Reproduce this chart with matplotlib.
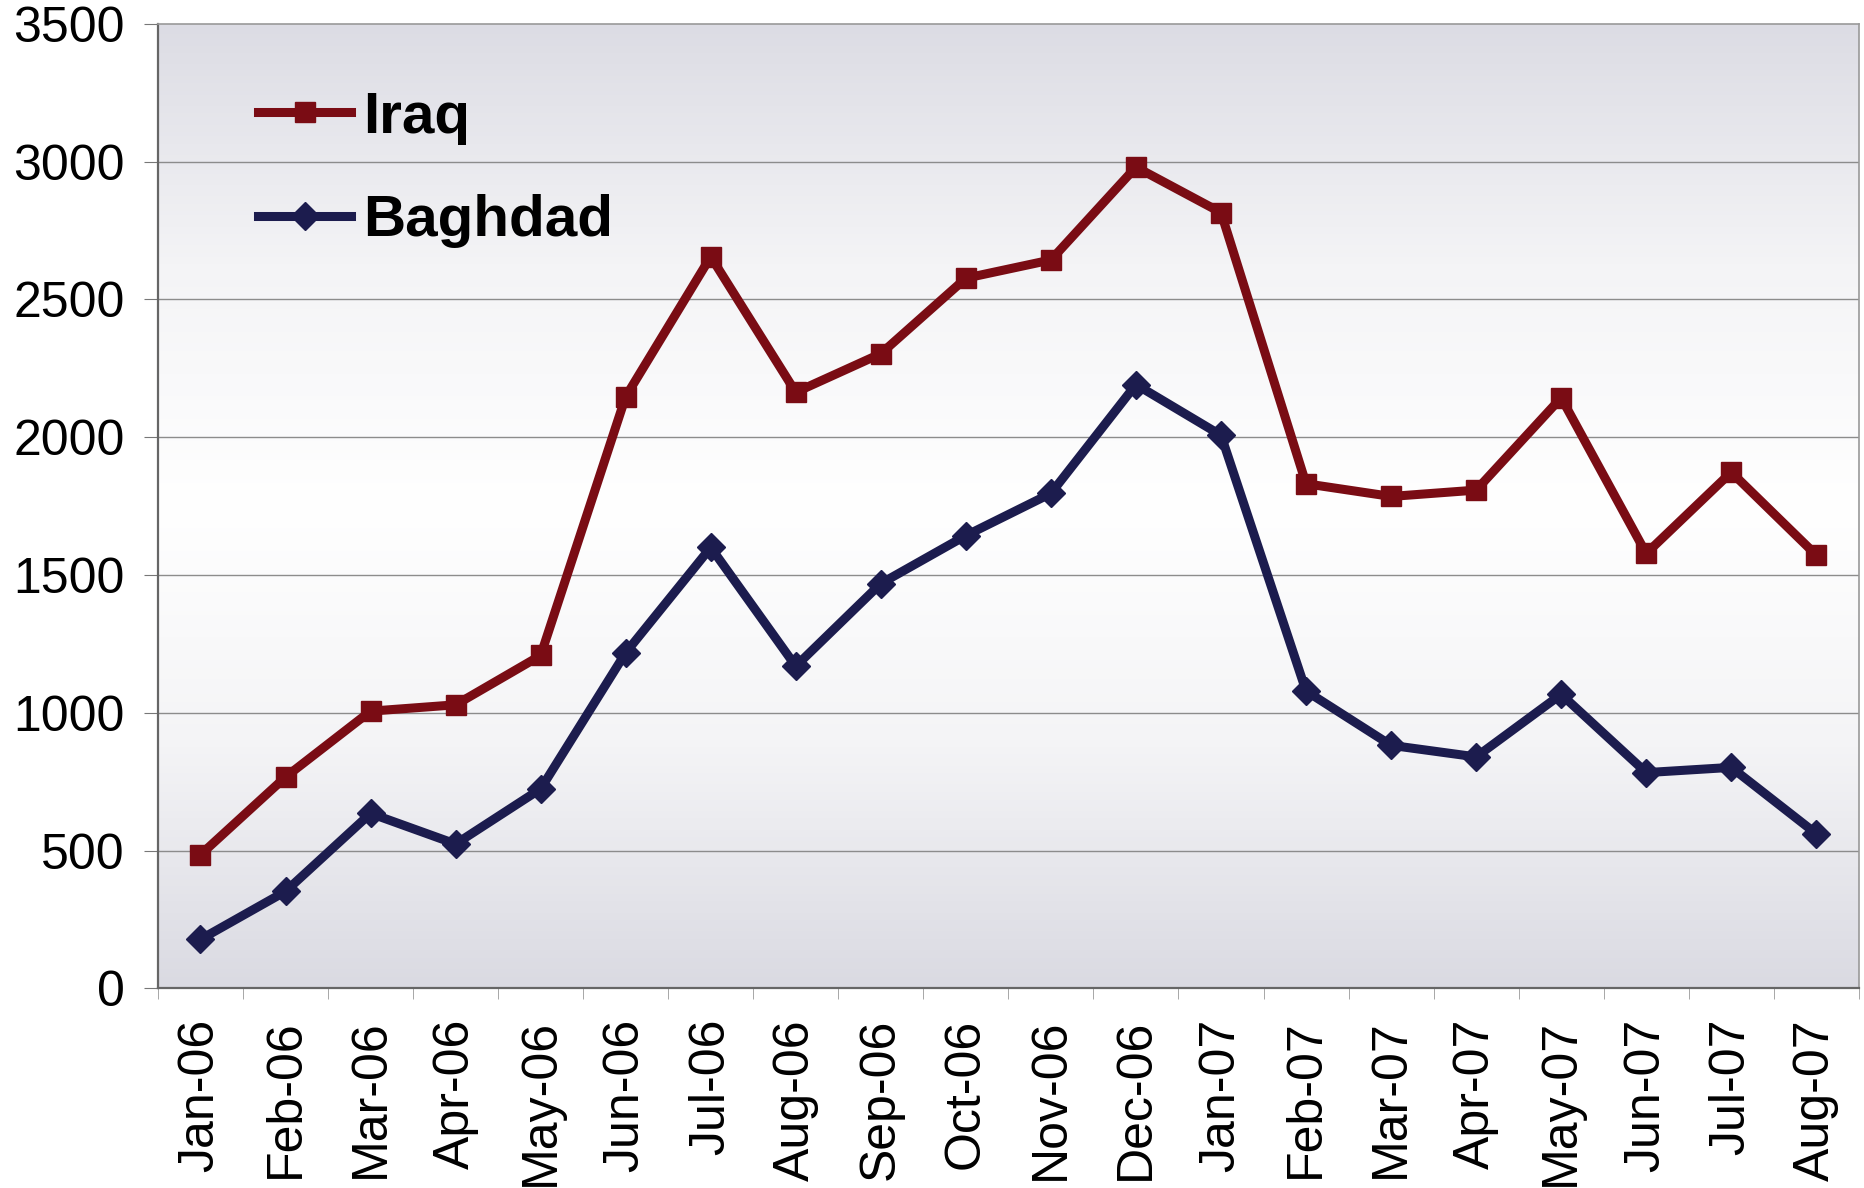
import numpy as np
import matplotlib
matplotlib.use("Agg")
import matplotlib.pyplot as plt
from matplotlib.colors import LinearSegmentedColormap

# monthly values
months = ["Jan-06", "Feb-06", "Mar-06", "Apr-06", "May-06", "Jun-06", "Jul-06",
          "Aug-06", "Sep-06", "Oct-06", "Nov-06", "Dec-06", "Jan-07", "Feb-07",
          "Mar-07", "Apr-07", "May-07", "Jun-07", "Jul-07", "Aug-07"]
iraq = [485, 767, 1006, 1029, 1208, 2147, 2655, 2163, 2303, 2577, 2643, 2980,
        2815, 1831, 1785, 1808, 2143, 1578, 1873, 1572]
baghdad = [178, 352, 635, 524, 724, 1218, 1600, 1169, 1469, 1643, 1796, 2191,
           2007, 1079, 882, 840, 1067, 783, 802, 561]
yticks = [0, 500, 1000, 1500, 2000, 2500, 3000, 3500]

plt.rcParams['font.family'] = ['Liberation Sans', 'DejaVu Sans']

fig = plt.figure(figsize=(18.65, 11.88), dpi=100)
ax = fig.add_axes([0.0847, 0.168, 0.912, 0.812])

# soft grey-white-grey background like the scanned original
cmap = LinearSegmentedColormap.from_list("bg", ["#dcdce4", "#f4f4f6", "#ffffff", "#f4f4f6", "#dadae2"])
grad = np.linspace(0, 1, 256).reshape(-1, 1)
ax.imshow(grad, aspect="auto", cmap=cmap, extent=[0, 1, 0, 1],
          transform=ax.transAxes, zorder=0)

x = np.arange(len(months))
ax.plot(x, iraq, color="#7a0c14", lw=6.5, marker="s", ms=15, label="Iraq", zorder=3)
ax.plot(x, baghdad, color="#1c1c4e", lw=6.5, marker="D", ms=14, label="Baghdad", zorder=3)

ax.set_xlim(-0.5, len(months) - 0.5)
ax.set_ylim(0, 3500)
ax.set_yticks(yticks)
ax.set_yticklabels([str(v) for v in yticks], fontsize=36)
ax.set_xticks(x)
ax.set_xticklabels(months, rotation=90, fontsize=36)
ax.set_xticks(np.arange(-0.5, len(months)), minor=True)
ax.tick_params(axis="x", which="major", length=0, pad=22)
ax.tick_params(axis="x", which="minor", length=8, color="#999999")
ax.tick_params(axis="y", length=10, color="#777777", pad=14)

for v in yticks[1:-1]:
    ax.axhline(v, color="#8c8c8c", lw=1.0, zorder=1)

for s in ["left", "bottom"]:
    ax.spines[s].set_color("#666666")
    ax.spines[s].set_linewidth(1.6)
for s in ["top", "right"]:
    ax.spines[s].set_color("#999999")
    ax.spines[s].set_linewidth(1.2)

leg = ax.legend(loc="upper left", bbox_to_anchor=(0.028, 0.985), frameon=False,
                prop={"weight": "bold", "size": 42}, handlelength=1.6,
                handletextpad=0.2, labelspacing=0.85)

fig.savefig("out.png", dpi=100)
